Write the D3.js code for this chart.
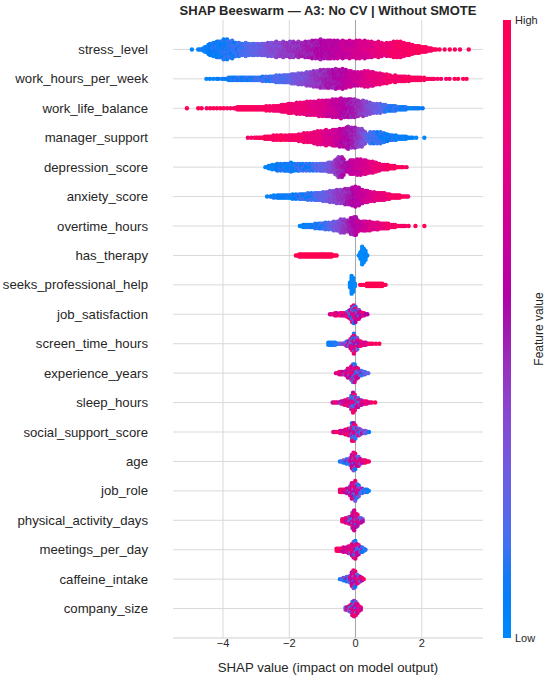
<!DOCTYPE html>
<html><head><meta charset="utf-8">
<script src="https://cdnjs.cloudflare.com/ajax/libs/d3/7.8.5/d3.min.js"></script>
<style>
body{margin:0;background:#fff}
svg{display:block}
text{font-family:"Liberation Sans", Arial, Helvetica, sans-serif;fill:#262626}
</style>
</head><body>
<svg id="chart" width="550" height="678"></svg>
<script>
// ---------------- DATA ----------------
const chartTitle = "SHAP Beeswarm — A3: No CV | Without SMOTE";
const xLabel = "SHAP value (impact on model output)";
const colorBarLabel = "Feature value";
const colorBarTicks = ["Low", "High"];
const xTicks = [-4, -2, 0, 2];

const features = ["stress_level","work_hours_per_week","work_life_balance","manager_support",
  "depression_score","anxiety_score","overtime_hours","has_therapy","seeks_professional_help",
  "job_satisfaction","screen_time_hours","experience_years","sleep_hours","social_support_score",
  "age","job_role","physical_activity_days","meetings_per_day","caffeine_intake","company_size"];

// Each knot: [SHAP value, points stacked per column, mean feature value (0 low .. 1 high), colour mixing]
const stress_level = [[-4.75,1,0.02],[-4.6,1.6,0.02],[-4.45,4.4,0.02],[-4.3,7.1,0.03],[-4.1,8,0.04],[-3.9,9.4,0.05],[-3.75,8,0.06],[-3.55,6.2,0.1],[-3.2,5.3,0.15],[-2.8,5.7,0.25],[-2.5,6.6,0.32],[-2.0,7.1,0.4],[-1.5,7.1,0.47],[-1.2,8.5,0.52],[-0.9,9,0.56],[-0.6,8,0.6],[-0.2,8,0.66],[0.2,8,0.72],[0.6,7.1,0.8],[0.9,6.2,0.86],[1.3,7.5,0.93],[1.6,5.3,0.96],[1.9,3.5,0.98],[2.2,2.1,1],[2.4,1,1],[2.5,0.35,1],[3.2,0.3,1],[3.25,0,1]];
const work_hours_per_week = [[-4.5,0.45,0.02],[-4.1,0.7,0.02],[-4.0,1.2,0.03],[-3.5,2.1,0.05],[-3.0,2.1,0.08],[-2.5,3,0.12],[-2.1,3.9,0.16],[-1.7,5.3,0.27],[-1.35,6.6,0.36],[-1.0,8,0.45],[-0.7,9,0.5],[-0.45,9,0.56],[-0.2,7.5,0.62],[0.05,6.2,0.68],[0.4,7.1,0.78],[0.8,5.3,0.86],[1.1,3.5,0.92],[1.5,2.5,0.96],[2.0,1.6,1],[2.3,1,1],[2.45,0.4,1],[3.45,0.4,1],[3.5,0,1]];
const work_life_balance = [[-4.8,0.35,1],[-3.7,0.6,1],[-3.55,1.6,1],[-3.0,2.1,0.98],[-2.5,2.5,0.95],[-2.1,4.4,0.9],[-1.6,5.7,0.85],[-1.2,7.1,0.78],[-0.8,8,0.7],[-0.4,9,0.58],[-0.1,8.5,0.5],[0.2,7.1,0.4],[0.5,5.3,0.28],[0.9,3.5,0.12],[1.3,2.1,0.05],[1.7,1,0.02],[2.05,0.6,0],[2.1,0,0]];
const manager_support = [[-3.25,0.5,1],[-2.8,1,1],[-2.75,2,1],[-2.3,2.5,0.98],[-1.8,3,0.95],[-1.5,4.4,0.9],[-1.0,6.2,0.8],[-0.7,7.5,0.7],[-0.4,8.5,0.6],[-0.2,10,0.52],[0.0,9,0.45],[0.25,7.5,0.3],[0.35,3.5,0.2],[0.5,5.7,0.1],[0.75,5.3,0.06],[1.0,3,0.03],[1.4,2,0.02],[1.85,0.6,0],[1.9,0,0]];
const depression_score = [[-2.72,1,0],[-2.6,2.1,0],[-2.3,3.5,0.02],[-2.0,4.4,0.04],[-1.7,3.5,0.06],[-1.36,3.5,0.08],[-0.9,3.9,0.22],[-0.65,5.3,0.35],[-0.5,9.8,0.45],[-0.42,10.3,0.48],[-0.3,4.4,0.55],[-0.15,6.6,0.6],[0.1,7.5,0.68],[0.4,6.2,0.76],[0.6,5.3,0.83],[0.75,3.5,0.88],[1.0,2.5,0.95],[1.3,1.2,1],[1.5,0.6,1],[1.55,0,1]];
const anxiety_score = [[-2.67,0.5,0],[-2.57,1.2,0],[-2.2,2.1,0.02],[-1.8,2.5,0.04],[-1.4,3.5,0.08],[-1.0,4.4,0.18],[-0.75,5.3,0.3],[-0.4,6.6,0.42],[-0.15,7.5,0.5],[0.0,9.8,0.56],[0.08,8,0.6],[0.3,5.7,0.68],[0.6,4.4,0.78],[0.86,3.5,0.86],[1.2,2.1,0.94],[1.5,1.2,1],[1.6,0.6,1],[1.62,0,1]];
const overtime_hours = [[-1.68,0.6,0],[-1.6,1.6,0],[-1.2,2.5,0.04],[-0.9,3.5,0.12],[-0.6,4.4,0.25],[-0.45,6.2,0.35],[-0.3,6.2,0.42],[-0.2,4.4,0.47],[-0.08,9.8,0.52],[0.0,9,0.56],[0.1,5.3,0.62],[0.4,4.4,0.72],[0.86,3,0.86],[1.2,1.6,0.95],[1.6,0.6,1],[1.62,0,1]];
const has_therapy = [[-1.8,0.5,1],[-1.7,1.6,1],[-1.4,2.2,1],[-1.0,2.2,1],[-0.7,1.6,1],[-0.52,0.7,1],[-0.5,0,1],[0.08,0,0],[0.12,2,0],[0.18,7,0],[0.22,10.3,0],[0.27,7,0],[0.33,2,0],[0.37,0,0]];
const seeks_professional_help = [[-0.22,0,0],[-0.18,2,0],[-0.13,7,0],[-0.1,10.3,0],[-0.06,7,0],[-0.02,2,0],[0.02,0,0],[0.13,0,1],[0.15,1.2,1],[0.3,1.6,1],[0.6,1.8,1],[0.85,1.4,1],[0.95,0.6,1],[0.97,0,1]];
const job_satisfaction = [[-0.77,1,0.9,0.3],[-0.6,1.6,0.9,0.3],[-0.35,1.6,0.8,0.4],[-0.28,2.6,0.7,0.7],[-0.15,5,0.6,0.85],[-0.07,10.3,0.55,0.85],[0.05,5.2,0.55,0.85],[0.18,2.8,0.6,0.7],[0.25,1.6,0.75,0.4],[0.39,1,0.85,0.3],[0.41,0,0.85,0]];
const screen_time_hours = [[-0.82,1.6,0.02,0.1],[-0.6,1.6,0.05,0.1],[-0.35,1.2,0.15,0.3],[-0.25,2.6,0.35,0.7],[-0.15,4.6,0.45,0.85],[-0.07,10,0.5,0.85],[0.05,5.2,0.55,0.85],[0.15,2.8,0.65,0.7],[0.25,1.6,0.85,0.3],[0.5,1.2,0.95,0.1],[0.55,0.4,1,0],[0.84,0.4,1,0],[0.86,0,1,0]];
const experience_years = [[-0.59,1.2,0.9,0.2],[-0.4,2,0.85,0.3],[-0.3,3,0.75,0.6],[-0.15,5.4,0.6,0.85],[-0.07,10.3,0.5,0.85],[0.05,5.4,0.45,0.85],[0.15,3,0.3,0.6],[0.25,2,0.1,0.3],[0.39,1.2,0.05,0.2],[0.41,0,0.05,0]];
const sleep_hours = [[-0.69,0.8,0.85,0.4],[-0.5,1.2,0.8,0.4],[-0.3,2.6,0.7,0.6],[-0.15,5,0.6,0.85],[-0.07,10,0.55,0.85],[0.05,5,0.55,0.85],[0.15,2.6,0.65,0.6],[0.3,1.6,0.85,0.3],[0.45,1,0.9,0.2],[0.62,0.6,0.95,0.1],[0.64,0,1,0]];
const social_support_score = [[-0.67,1,0.95,0.2],[-0.45,1.6,0.9,0.3],[-0.3,2.6,0.8,0.6],[-0.15,5,0.65,0.85],[-0.08,10,0.55,0.85],[0.05,5,0.45,0.85],[0.15,2.6,0.3,0.6],[0.3,1.6,0.1,0.3],[0.42,1,0.05,0.2],[0.44,0,0,0]];
const age = [[-0.47,1.2,0.05,0.2],[-0.3,2,0.1,0.3],[-0.2,3,0.3,0.6],[-0.12,5.4,0.45,0.85],[-0.05,10,0.5,0.85],[0.05,5.4,0.55,0.85],[0.15,2.6,0.75,0.5],[0.3,1.6,0.95,0.2],[0.44,1.2,1,0.1],[0.46,0,1,0]];
const job_role = [[-0.47,1.6,0.95,0.2],[-0.3,2.5,0.9,0.3],[-0.2,4,0.75,0.6],[-0.1,7.5,0.6,0.85],[-0.03,10,0.5,0.85],[0.08,6.5,0.4,0.85],[0.15,3,0.2,0.5],[0.3,2,0.05,0.2],[0.44,1.2,0,0.1],[0.46,0,0,0]];
const physical_activity_days = [[-0.4,1.6,0.95,0.2],[-0.25,2.6,0.85,0.4],[-0.15,4.8,0.7,0.85],[-0.05,10,0.55,0.85],[0.05,5.6,0.45,0.85],[0.15,3,0.35,0.6],[0.24,1.2,0.2,0.4],[0.26,0,0.2,0]];
const meetings_per_day = [[-0.57,1.6,1,0.1],[-0.35,2.5,0.9,0.3],[-0.2,3.6,0.75,0.6],[-0.1,6,0.6,0.85],[-0.03,10,0.5,0.85],[0.08,5,0.4,0.85],[0.18,2.5,0.15,0.4],[0.32,1.2,0.05,0.2],[0.34,0,0,0]];
const caffeine_intake = [[-0.47,1.2,0.05,0.2],[-0.3,2,0.1,0.4],[-0.15,3.6,0.4,0.7],[-0.05,10,0.55,0.85],[0.05,5,0.6,0.85],[0.15,2.6,0.75,0.6],[0.24,1.2,0.85,0.4],[0.26,0,0.85,0]];
const company_size = [[-0.3,1.6,0.7,0.6],[-0.15,3.4,0.6,0.85],[-0.05,9.5,0.55,0.85],[0.05,5,0.5,0.85],[0.19,1.2,0.45,0.6],[0.21,0,0.45,0]];

// isolated points: [feature index, SHAP value, feature value]
const outliers = [[0,-4.94,0.02],[0,3.42,1],[2,-5.09,1],[3,2.08,0],[6,1.81,1],[6,2.08,1]];
// default colour mixing per feature (top features are smooth gradients)
const colorMix = [0.1,0.1,0.1,0.1,0.1,0.1,0.1,0,0,0.8,0.8,0.8,0.8,0.8,0.8,0.8,0.8,0.8,0.8,0.8];

const profiles = [stress_level, work_hours_per_week, work_life_balance, manager_support,
  depression_score, anxiety_score, overtime_hours, has_therapy, seeks_professional_help,
  job_satisfaction, screen_time_hours, experience_years, sleep_hours, social_support_score,
  age, job_role, physical_activity_days, meetings_per_day, caffeine_intake, company_size];

// ---------------- LAYOUT ----------------
const plot = {left:173, right:483, top:20, bottom:638};
const svg = d3.select("#chart");
const x = d3.scaleLinear().domain([-5.51, 3.85]).range([plot.left, plot.right]);
const y = d3.scalePoint().domain(features).range([plot.top, plot.bottom]).padding(1);

// SHAP red_blue colormap (LCh interpolation)
function shapColor(t){
  t = Math.max(0, Math.min(1, t));
  const l = t < 0.5 ? 54 - 28*t : 40 + 28*(t-0.5);
  const c = 70 + 20*t;
  const h = (266.93 + 113.39*t) % 360;
  return d3.hcl(h, c, l).formatHex();
}

// gridlines
const grid = svg.append("g");
grid.selectAll("line.v").data(xTicks.filter(d=>d!==0)).join("line")
  .attr("x1", d=>x(d)).attr("x2", d=>x(d)).attr("y1", plot.top).attr("y2", plot.bottom)
  .attr("stroke", "#d9d9d9").attr("stroke-width", 1);
grid.selectAll("line.h").data(features).join("line")
  .attr("x1", plot.left).attr("x2", plot.right).attr("y1", d=>y(d)).attr("y2", d=>y(d))
  .attr("stroke", "#d9d9d9").attr("stroke-width", 1);
grid.append("line").attr("x1", x(0)).attr("x2", x(0)).attr("y1", plot.top).attr("y2", plot.bottom)
  .attr("stroke", "#a8a8a8").attr("stroke-width", 1.1);
grid.append("line").attr("x1", plot.left).attr("x2", plot.right).attr("y1", plot.bottom).attr("y2", plot.bottom)
  .attr("stroke", "#cfcfcf").attr("stroke-width", 1);

// beeswarm layout from profiles
const colDx = 1.7, rowDy = 2.2;
const jitterPattern = [0.3,-0.6,0.8,-0.2,0.5,-0.8,0.1,0.7,-0.4,0.2,-0.7,0.5,-0.1];
const colorPattern = [0.0,0.9,0.45,1.0,0.2,0.7,0.05,0.55,0.95,0.3,0.8];
const dots = [];
profiles.forEach((kn, fi) => {
  const us = kn.map(k=>k[0]);
  const nS = d3.scaleLinear().domain(us).range(kn.map(k=>k[1])).clamp(true);
  const cS = d3.scaleLinear().domain(us).range(kn.map(k=>k[2])).clamp(true);
  const mS = d3.scaleLinear().domain(us).range(kn.map(k=>k[3] !== undefined ? k[3] : colorMix[fi])).clamp(true);
  const x0 = x(us[0]), x1 = x(us[us.length-1]);
  let acc = 0.6, col = 0;
  for (let px = x0; px <= x1; px += colDx, col++) {
    const u = x.invert(px);
    const n = nS(u);
    if (n <= 0.001) continue;
    const c = cS(u), m = mS(u);
    if (n < 1) {
      acc += n;
      if (acc >= 1) { acc -= 1; dots.push({f:features[fi], u, off:0, t: c*(1-m) + colorPattern[col%11]*m}); }
      continue;
    }
    const jit = jitterPattern[col % jitterPattern.length] * Math.min(1.2, (n-1)/4);
    const k = Math.max(1, Math.round(n + jit));
    for (let i = 0; i < k; i++) {
      const pat = colorPattern[(col*7 + i*4 + col*i) % 11];
      dots.push({f:features[fi], u, off:(i-(k-1)/2)*rowDy, t: c*(1-m) + pat*m});
    }
  }
});
outliers.forEach(o => dots.push({f:features[o[0]], u:o[1], off:0, t:o[2]}));

svg.append("g").selectAll("circle").data(dots).join("circle")
  .attr("cx", d=>x(d.u)).attr("cy", d=>y(d.f)+d.off).attr("r", 2.2)
  .attr("fill", d=>shapColor(d.t));

// y labels
svg.append("g").selectAll("text").data(features).join("text")
  .attr("x", 148).attr("y", d=>y(d)).attr("dy", "0.35em")
  .attr("text-anchor", "end").attr("font-size", "13.2px").text(d=>d);

// x tick labels
svg.append("g").selectAll("text").data(xTicks).join("text")
  .attr("x", d=>x(d)).attr("y", 647).attr("text-anchor", "middle")
  .attr("font-size", "11px").text(d=>d3.format("")(d).replace("-", "\u2212"));

svg.append("text").attr("x", (plot.left+plot.right)/2).attr("y", 671.5)
  .attr("text-anchor", "middle").attr("font-size", "13.2px").text(xLabel);

svg.append("text").attr("x", (plot.left+plot.right)/2).attr("y", 15)
  .attr("text-anchor", "middle").attr("font-size", "13px").attr("font-weight", "bold").text(chartTitle);

// colour bar
const defs = svg.append("defs");
const grad = defs.append("linearGradient").attr("id", "cbar").attr("x1", 0).attr("x2", 0).attr("y1", 1).attr("y2", 0);
grad.selectAll("stop").data(d3.range(0, 1.0001, 0.05)).join("stop")
  .attr("offset", d=>d).attr("stop-color", d=>shapColor(d));
const cbY = d3.scaleLinear().domain([0,1]).range([plot.bottom, plot.top]);
svg.append("rect").attr("x", 503).attr("y", cbY(1)).attr("width", 8).attr("height", cbY(0)-cbY(1))
  .attr("fill", "url(#cbar)");
svg.append("g").selectAll("text").data(colorBarTicks).join("text")
  .attr("x", 515).attr("y", (d,i)=>cbY(i)).attr("dy", "0.35em").attr("font-size", "11px").text(d=>d);
svg.append("text").attr("transform", `translate(539,${(plot.top+plot.bottom)/2}) rotate(-90)`)
  .attr("text-anchor", "middle").attr("dy", "0.35em").attr("font-size", "12px").text(colorBarLabel);
</script>
</body></html>
